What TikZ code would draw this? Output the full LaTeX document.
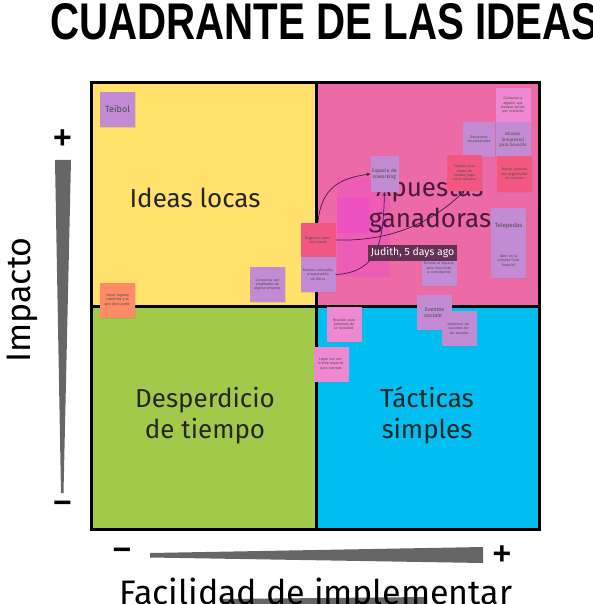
\documentclass[tikz,border=0pt]{standalone}
\usepackage{fontspec}
\setmainfont{Fira Sans}
\newfontfamily\titulofont{Liberation Sans}
\usetikzlibrary{shapes}
\usetikzlibrary{arrows}
\usetikzlibrary{positioning}
\usetikzlibrary{shadows}
\usetikzlibrary{calc}
\definecolor{amarillo}{HTML}{FFE16B}
\definecolor{rosa}{HTML}{EC6BA6}
\definecolor{verde}{HTML}{A3C94A}
\definecolor{celeste}{HTML}{00BEF0}
\definecolor{morado}{HTML}{C28BD4}
\definecolor{rojizo}{HTML}{F2587F}
\definecolor{rosaclaro}{HTML}{EE88D2}
\definecolor{naranja}{HTML}{FF8A66}
\definecolor{fucsia}{HTML}{F04CC8}
\definecolor{globo}{HTML}{5C2B4B}
\definecolor{tinta}{HTML}{4A1A3A}
\definecolor{gris}{HTML}{666666}

\begin{document}
\begin{tikzpicture}[x=1pt,y=-1pt]
\tikzstyle{nota}=[rectangle,fill=morado,minimum width=35pt,minimum height=35pt,
        inner sep=1pt,text width=31pt,align=center,text=black!70,
        font=\fontsize{3.6}{4.4}\selectfont,
        drop shadow={opacity=0.2,shadow xshift=0.6pt,shadow yshift=-1.2pt}]
\tikzstyle{cuadro}=[font=\fontsize{26}{31}\selectfont,text=black!85,align=center,inner sep=0pt]
\tikzstyle{eje}=[font=\fontsize{34}{36}\selectfont,inner sep=0pt]
\tikzstyle{signo}=[font=\titulofont\bfseries\fontsize{32}{32}\selectfont,inner sep=0pt]
%estilodelasflechas
\tikzstyle{suite}=[->,>=stealth,tinta,line width=0.7pt]
\useasboundingbox (0,0) rectangle (592,604);
%titulo
\node[anchor=north west,inner sep=0pt] (titulo) at (50,3)
        {\resizebox{548pt}{36pt}{\titulofont\bfseries CUADRANTE DE LAS IDEAS}};
%cuadrantes
\fill[amarillo] (91.5,83) rectangle (316,306);
\fill[rosa] (316,83) rectangle (539,306);
\fill[verde] (91.5,306) rectangle (316,529);
\fill[celeste] (316,306) rectangle (539,529);
\fill[fucsia,opacity=0.45] (337,177) rectangle (390,277);
\fill[fucsia,opacity=0.6] (337,197) rectangle (370,233);
\draw[line width=3pt] (91.5,83) rectangle (539,529);
\draw[line width=3pt] (316,83) -- (316,529);
\draw[line width=3pt] (91.5,306) -- (539,306);
%titulosdeloscuadrantes
\node[cuadro] (locas) at (195,198) {Ideas locas};
\node[cuadro,anchor=base,text=tinta] (ganadoras) at (430,227) {Apuestas\\ganadoras};
\node[cuadro,anchor=base] (desperdicio) at (205,438) {Desperdicio\\de tiempo};
\node[cuadro,anchor=base] (tacticas) at (427,438) {Tácticas\\simples};
%ejes
\fill[gris] (55,160) -- (71,160) -- (63.5,493) -- (61,493) -- cycle;
\fill[gris] (150,553) -- (483,547) -- (483,563) -- (150,557.5) -- cycle;
\fill[gris] (223,599) -- (427,597) -- (427,604) -- (223,604) -- cycle;
\node[signo] (masy) at (62.5,139) {+};
\node[signo] (menosy) at (62.5,507) {−};
\node[signo] (menosx) at (122,554) {−};
\node[signo] (masx) at (502,555) {+};
\node[eje,rotate=90] (impacto) at (22,300) {Impacto};
\node[eje,anchor=base] (facilidad) at (316,604) {Facilidad de implementar};
%notas
\node[nota,font=\fontsize{9}{10}\selectfont] (teibol) at (117.5,109.5) {Teibol};
\node[nota,fill=naranja] (jardin) at (117.5,300) {Hacer lugares cubiertos y al aire libre jardín};
\node[nota] (convenios) at (267.5,284.5) {Convenios con empleados de alguna empresa};
\node[nota,fill=rojizo] (organizar) at (318,240) {Organizar eventos mixtos};
\node[nota] (culturales) at (318,274.5) {Eventos culturales, presentación de libros};
\node[nota,minimum width=28pt,text width=26pt,minimum height=36pt,font=\fontsize{5}{6}\selectfont] (coworking) at (384.5,174) {Espacio de coworking};
\node[nota,fill=rosaclaro] (contactar) at (513,105.5) {Contactar a alguien que busque socios por comisión};
\node[nota,minimum width=32pt,text width=30pt] (desayunos) at (479,139.5) {Desayunos empresariales};
\node[nota,font=\fontsize{4.5}{5.6}\selectfont] (aliados) at (513,140) {Aliados (empresas) para brunchs};
\node[nota,fill=rojizo] (zumba) at (464.5,173) {Espacio para clases de zumba, yoga entre semana};
\node[nota,fill=rojizo] (busca) at (514.5,174) {Buscar alianzas con organizador de eventos};
\node[nota,font=\fontsize{6}{7}\selectfont] (telepedas) at (508.5,225.5) {Telepedas};
\node[nota] (abrir) at (508.5,260.5) {Abrir en la jornada (más horario)};
\node[nota] (brindar) at (439,268) {Brindar el espacio para reuniones o cumpleaños};
\node[nota,font=\fontsize{5.5}{6.6}\selectfont] (eventos) at (434.5,312.5) {Eventos sociales};
\node[nota] (promover) at (459,328.5) {promover descuentos entre semana};
\node[nota,fill=rosaclaro] (reunion) at (344,324) {Reunión para personas de la Sociedad};
\node[nota,fill=rosaclaro] (lugar) at (331,364) {Lugar con ambiente especial para eventos};
%flechas
\draw[suite] (organizar.north) .. controls (321,188) and (340,178) .. (coworking.west);
\draw[suite] (organizar.east) .. controls (400,242) and (440,215) .. (zumba.south);
\draw[suite] (culturales.east) .. controls (380,272) and (383,240) .. (coworking.south);
%comentario
\node[fill=globo,opacity=0.92,text opacity=1,text=white,inner sep=3pt,
        font=\fontsize{10.5}{12}\selectfont] (judith) at (412.5,253) {Judith, 5 days ago};
\end{tikzpicture}
\end{document}
